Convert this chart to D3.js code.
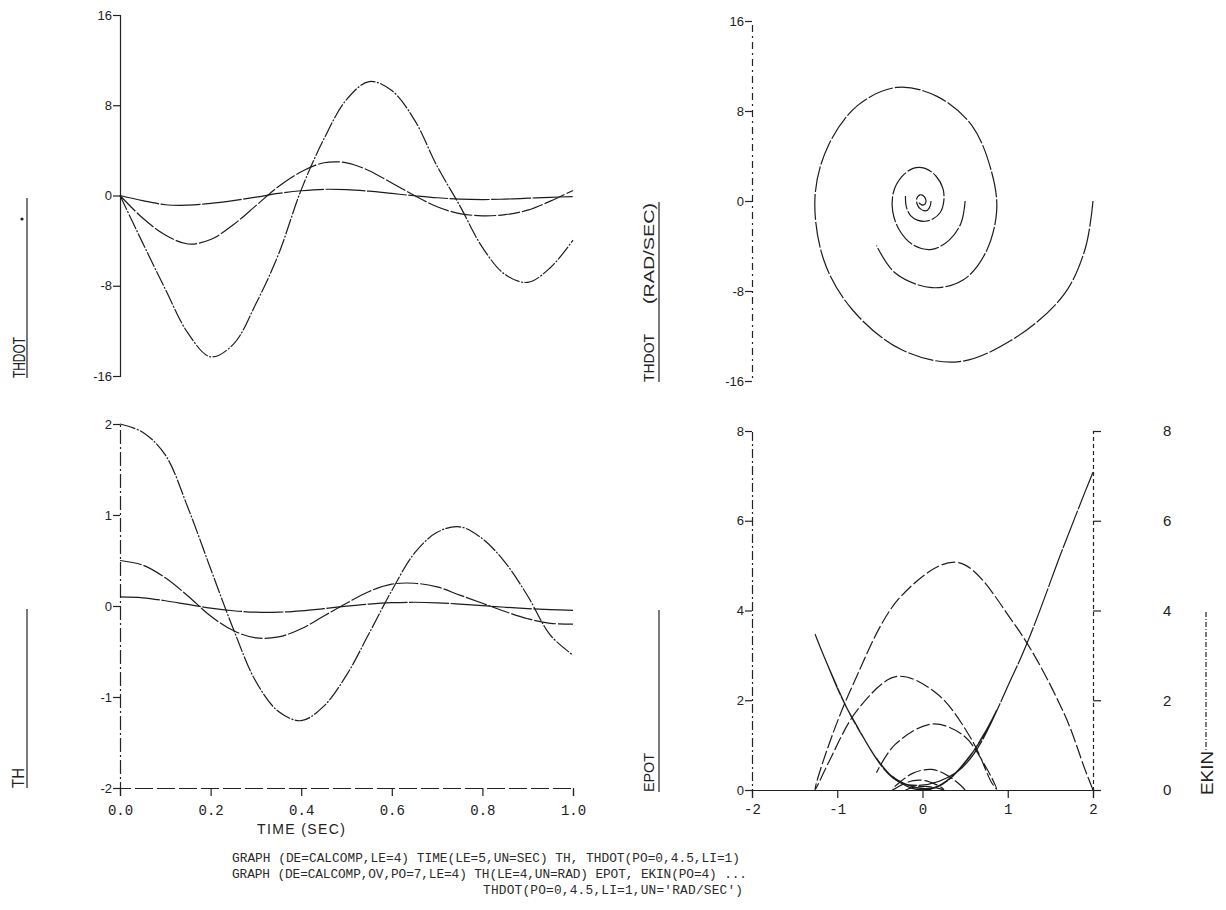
<!DOCTYPE html>
<html>
<head>
<meta charset="utf-8">
<script src="https://cdn.jsdelivr.net/npm/d3@7"></script>
<style>
  body { margin: 0; background: #fff; }
  svg { display: block; }
  .axis .tick text { font-family: "Liberation Sans", Arial, sans-serif; font-size: 13px; fill: #222; }
  .axis.xlab .tick text { font-family: "Liberation Mono", monospace; font-size: 14px; }
  .axis.rlab .tick text { font-size: 15px; }
  .axis path, .axis line { stroke: #222; stroke-width: 1.2; fill: none; }
  .curve { fill: none; stroke: #1c1c1c; stroke-width: 1.2; }
  .lab { font-family: "Liberation Sans", Arial, sans-serif; fill: #222; }
  .cap { font-family: "Liberation Mono", monospace; font-size: 12.8px; fill: #2a2a2a; }
</style>
</head>
<body>
<svg width="1226" height="910"></svg>
<script>
// sample times (sec)
const time = [0, 0.05, 0.1, 0.15, 0.2, 0.25, 0.3, 0.35, 0.4, 0.45, 0.5,
              0.55, 0.6, 0.65, 0.7, 0.75, 0.8, 0.85, 0.9, 0.95, 1.0];

// TH (rad), three starting angles
const thA = [2.00, 1.91, 1.66, 1.08, 0.41, -0.25, -0.83, -1.16, -1.26, -1.10, -0.76,
             -0.30, 0.17, 0.58, 0.81, 0.87, 0.74, 0.48, 0.11, -0.32, -0.54];
const thB = [0.50, 0.45, 0.31, 0.11, -0.11, -0.27, -0.35, -0.34, -0.25, -0.11, 0.03,
             0.16, 0.24, 0.25, 0.21, 0.12, 0.03, -0.06, -0.14, -0.19, -0.20];
const thC = [0.100, 0.090, 0.058, 0.017, -0.023, -0.052, -0.068, -0.068, -0.053, -0.029, -0.002,
             0.021, 0.036, 0.041, 0.035, 0.021, 0.004, -0.014, -0.029, -0.040, -0.047];

// THDOT (rad/sec)
const thdotA = [0, -4.2, -8.3, -12.2, -14.3, -13.2, -9.6, -5.2, 0.5, 5.0, 8.5,
                10.1, 9.3, 6.7, 2.6, -0.9, -4.6, -7.0, -7.7, -6.4, -3.95];
const thdotB = [0, -2.0, -3.5, -4.3, -3.9, -2.6, -0.9, 0.8, 2.1, 2.9, 2.9,
                2.2, 1.1, 0.0, -1.0, -1.6, -1.8, -1.7, -1.3, -0.5, 0.45];
const thdotC = [0, -0.45, -0.82, -0.86, -0.70, -0.45, -0.15, 0.18, 0.42, 0.55, 0.52,
                0.38, 0.18, -0.02, -0.20, -0.32, -0.36, -0.32, -0.24, -0.16, -0.10];

// EPOT and EKIN
const epotA = [7.08, 6.66, 5.45, 2.64, 0.41, 0.16, 1.63, 3.00, 3.47, 2.73, 1.38,
               0.22, 0.07, 0.82, 1.55, 1.78, 1.31, 0.57, 0.03, 0.25, 0.71];
const epotB = [0.612, 0.498, 0.238, 0.030, 0.030, 0.181, 0.303, 0.286, 0.155, 0.030, 0.002,
               0.064, 0.143, 0.155, 0.110, 0.036, 0.002, 0.009, 0.049, 0.090, 0.100];
const epotC = [0.025, 0.020, 0.008, 0.001, 0.001, 0.007, 0.012, 0.012, 0.007, 0.002, 0.000,
               0.001, 0.003, 0.004, 0.003, 0.001, 0.000, 0.000, 0.002, 0.004, 0.006];
const ekinA = [0, 0.437, 1.708, 3.691, 5.071, 4.321, 2.286, 0.671, 0.006, 0.620, 1.792,
               2.530, 2.145, 1.113, 0.168, 0.020, 0.525, 1.215, 1.470, 1.016, 0.387];
const ekinB = [0, 0.099, 0.304, 0.459, 0.377, 0.168, 0.020, 0.016, 0.109, 0.209, 0.209,
               0.120, 0.030, 0.000, 0.025, 0.063, 0.080, 0.072, 0.042, 0.006, 0.005];
const ekinC = [0, 0.005, 0.017, 0.018, 0.012, 0.005, 0.001, 0.001, 0.004, 0.008, 0.007,
               0.004, 0.001, 0.000, 0.001, 0.003, 0.003, 0.003, 0.001, 0.001, 0.000];

// tick labels
const timeTicks = [0, 0.2, 0.4, 0.6, 0.8, 1.0];
const thdotTicks = [-16, -8, 0, 8, 16];
const thTicks = [-2, -1, 0, 1, 2];
const energyTicks = [0, 2, 4, 6, 8];

const runs = [
    { th: thA, thdot: thdotA, epot: epotA, ekin: ekinA, dash: "16,1.5,2,1.5" },
    { th: thB, thdot: thdotB, epot: epotB, ekin: ekinB, dash: "22,2" },
    { th: thC, thdot: thdotC, epot: epotC, ekin: ekinC, dash: "40,1.5" }
];

const svg = d3.select("svg");

// scales for the four panels
const xT  = d3.scaleLinear().domain([0, 1]).range([120, 573]);
const yV  = d3.scaleLinear().domain([-16, 16]).range([376, 15]);
const yTh = d3.scaleLinear().domain([-2, 2]).range([788, 424]);
const xR  = d3.scaleLinear().domain([-2, 2]).range([752, 1093]);
const yVR = d3.scaleLinear().domain([-16, 16]).range([381, 21]);
const yE  = d3.scaleLinear().domain([0, 8]).range([790, 431]);

function axis(gen, tx, ty, cls, domainDash) {
    const g = svg.append("g")
        .attr("class", "axis " + (cls || ""))
        .attr("transform", "translate(" + tx + "," + ty + ")")
        .call(gen);
    if (domainDash) g.select(".domain").attr("stroke-dasharray", domainDash);
    return g;
}

// top left: THDOT vs TIME
axis(d3.axisLeft(yV).tickValues(thdotTicks).tickFormat(d => String(d)).tickSize(7).tickPadding(1), 120, 0);
// bottom left: TH vs TIME
axis(d3.axisLeft(yTh).tickValues(thTicks).tickFormat(d => String(d)).tickSize(7).tickPadding(1), 120, 0, "", "14,3,2,3");
axis(d3.axisBottom(xT).tickValues(timeTicks).tickFormat(d3.format(".1f")).tickSize(8).tickPadding(9), 0, 788, "xlab", "18,4");
// top right: phase plane
axis(d3.axisLeft(yVR).tickValues(thdotTicks).tickFormat(d => String(d)).tickSize(7).tickPadding(1), 752, 0, "", "7,4,2,4");
// bottom right: energies
axis(d3.axisLeft(yE).tickValues(energyTicks).tickFormat(d => String(d)).tickSize(7).tickPadding(1), 752, 0, "", "9,3,2,3");
axis(d3.axisBottom(xR).tickValues(thTicks).tickFormat(d => String(d)).tickSize(8).tickPadding(6), 0, 790, "xlab");
axis(d3.axisRight(yE).tickValues(energyTicks).tickFormat(d => String(d)).tickSize(8).tickPadding(62), 1093, 0, "rlab", "4,3");

const smooth = d3.curveCatmullRom.alpha(0.5);
function path(xs, ys, xScale, yScale, dash) {
    svg.append("path")
        .attr("class", "curve")
        .attr("stroke-dasharray", dash)
        .attr("d", d3.line()
            .x((d, i) => xScale(xs[i]))
            .y((d, i) => yScale(ys[i]))
            .curve(smooth)(time));
}

runs.forEach(r => {
    path(time, r.thdot, xT, yV, r.dash);
    path(time, r.th, xT, yTh, r.dash);
    path(r.th, r.thdot, xR, yVR, "26,2");
    path(r.th, r.epot, xR, yE, "40,1.5");
    path(r.th, r.ekin, xR, yE, "14,3");
});

// rotated axis labels with their underline strokes
function vlabel(txt, x, y, len, size) {
    svg.append("text").attr("class", "lab")
        .attr("transform", "translate(" + x + "," + y + ") rotate(-90)")
        .attr("font-size", size)
        .attr("textLength", len).attr("lengthAdjust", "spacingAndGlyphs")
        .text(txt);
}
function vline(x, y1, y2, dash) {
    svg.append("line").attr("x1", x).attr("x2", x).attr("y1", y1).attr("y2", y2)
        .attr("stroke", "#222").attr("stroke-width", 1.2)
        .attr("stroke-dasharray", dash || null);
}

vlabel("THDOT", 25, 378, 41, 16);
vline(27, 198, 378);
svg.append("circle").attr("cx", 22).attr("cy", 219).attr("r", 1.6).attr("fill", "#222");

vlabel("TH", 24, 788, 20, 16);
vline(27, 609, 788);

vlabel("THDOT", 654, 382, 48, 15);
vlabel("(RAD/SEC)", 654, 304, 101, 15);
vline(659, 202, 382);

vlabel("EPOT", 654, 792, 39, 15);
vline(659, 610, 792);

vlabel("EKIN", 1213, 795, 44, 16);
vline(1206, 612, 750, "5,2,1,2");

svg.append("text").attr("class", "lab")
    .attr("x", 257).attr("y", 834).attr("font-size", 14)
    .attr("textLength", 88).attr("lengthAdjust", "spacing")
    .text("TIME  (SEC)");

// command lines printed under the plot
const captions = [
    ["GRAPH (DE=CALCOMP,LE=4) TIME(LE=5,UN=SEC) TH, THDOT(PO=0,4.5,LI=1)", 232, 862, 508],
    ["GRAPH (DE=CALCOMP,OV,PO=7,LE=4) TH(LE=4,UN=RAD) EPOT, EKIN(PO=4) ...", 232, 878, 515],
    ["THDOT(PO=0,4.5,LI=1,UN='RAD/SEC')", 483, 894, 260]
];
captions.forEach(c => {
    svg.append("text").attr("class", "cap")
        .attr("x", c[1]).attr("y", c[2])
        .attr("textLength", c[3]).attr("lengthAdjust", "spacing")
        .text(c[0]);
});
</script>
</body>
</html>
